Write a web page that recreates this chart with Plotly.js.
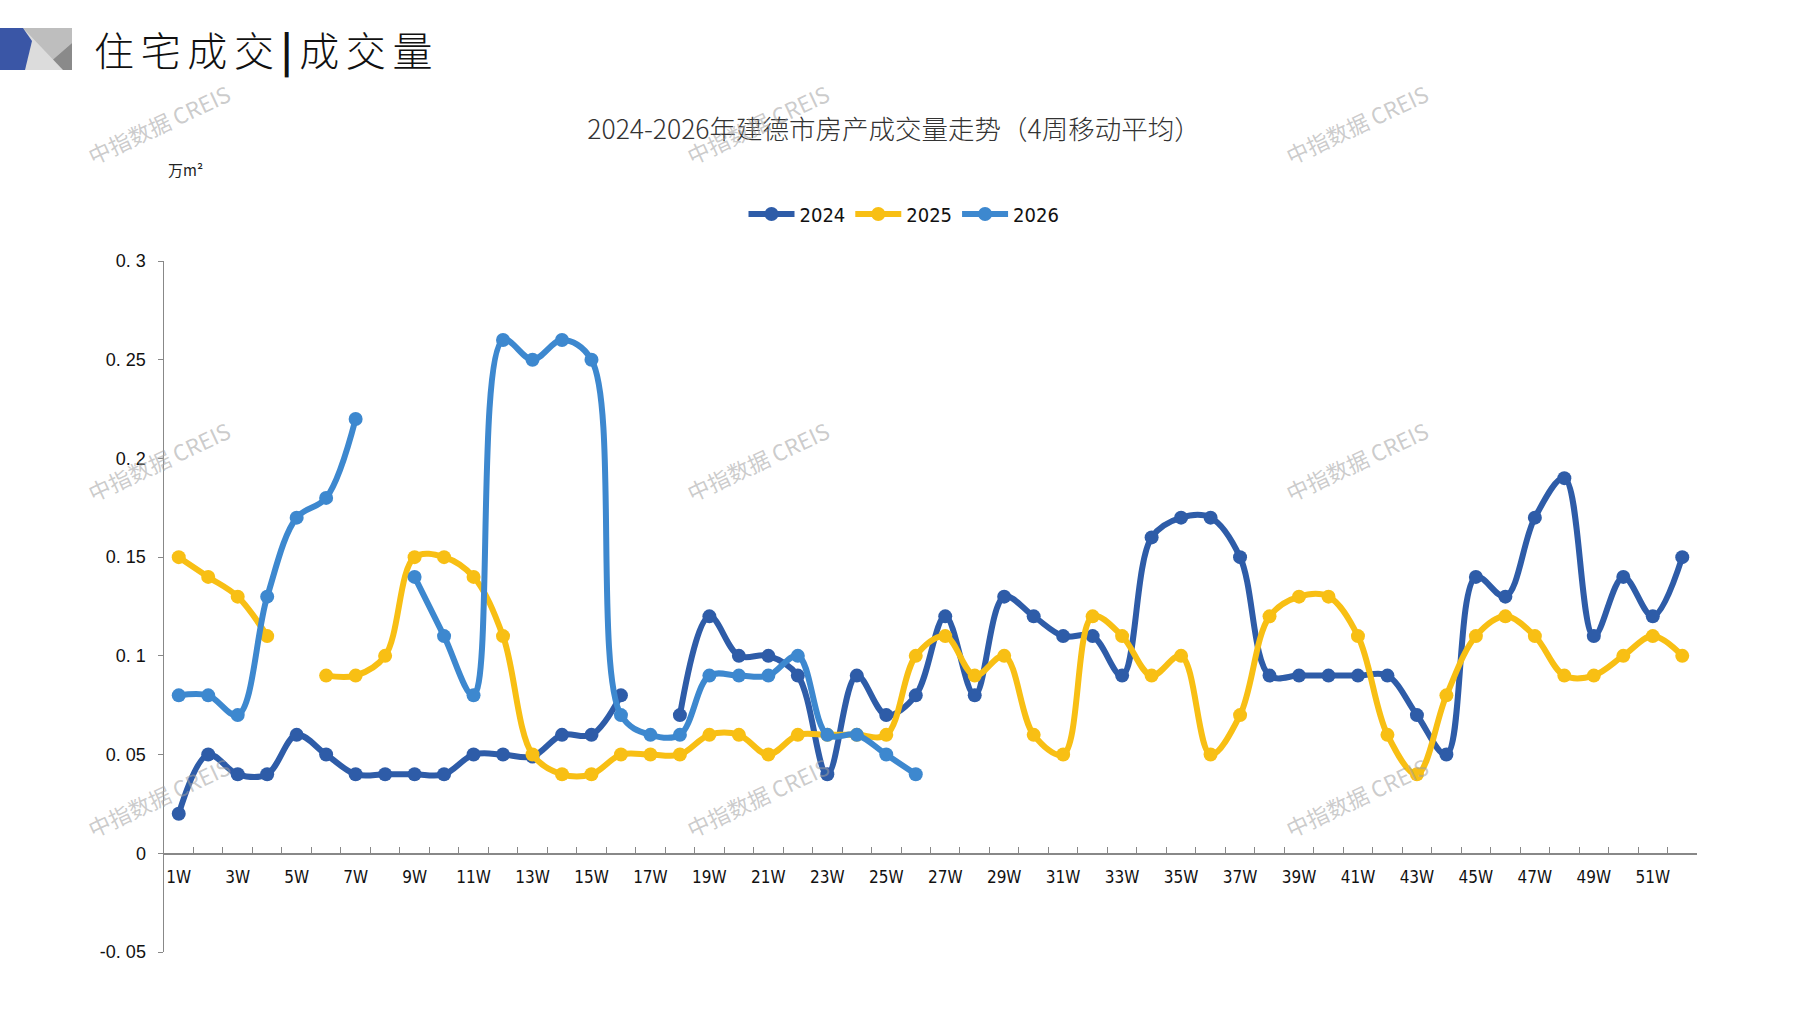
<!DOCTYPE html>
<html>
<head>
<meta charset="utf-8">
<script src="https://cdn.plot.ly/plotly-3.0.1.min.js"></script>
<style>
  html, body { margin: 0; padding: 0; background: #fff; }
  #graph { width: 1797px; height: 1010px; }
</style>
</head>
<body>
<div id="graph"></div>
<script>
// weeks on the x axis
var weeks = ['1W','2W','3W','4W','5W','6W','7W','8W','9W','10W',
  '11W','12W','13W','14W','15W','16W','17W','18W','19W','20W',
  '21W','22W','23W','24W','25W','26W','27W','28W','29W','30W',
  '31W','32W','33W','34W','35W','36W','37W','38W','39W','40W',
  '41W','42W','43W','44W','45W','46W','47W','48W','49W','50W',
  '51W','52W'];

// only odd weeks get a label
var weekLabels = ['1W','','3W','','5W','','7W','','9W','',
  '11W','','13W','','15W','','17W','','19W','',
  '21W','','23W','','25W','','27W','','29W','',
  '31W','','33W','','35W','','37W','','39W','',
  '41W','','43W','','45W','','47W','','49W','',
  '51W',''];

// 4 week moving average, 万m2
var y2024 = [0.02,0.05,0.04,0.04,0.06,0.05,0.04,0.04,0.04,0.04,
  0.05,0.05,0.049,0.06,0.06,0.08,null,0.07,0.12,0.10,
  0.10,0.09,0.04,0.09,0.07,0.08,0.12,0.08,0.13,0.12,
  0.11,0.11,0.09,0.16,0.17,0.17,0.15,0.09,0.09,0.09,
  0.09,0.09,0.07,0.05,0.14,0.13,0.17,0.19,0.11,0.14,
  0.12,0.15];

var y2025 = [0.15,0.14,0.13,0.11,null,0.09,0.09,0.10,0.15,0.15,
  0.14,0.11,0.05,0.04,0.04,0.05,0.05,0.05,0.06,0.06,
  0.05,0.06,0.06,0.06,0.06,0.10,0.11,0.09,0.10,0.06,
  0.05,0.12,0.11,0.09,0.10,0.05,0.07,0.12,0.13,0.13,
  0.11,0.06,0.04,0.08,0.11,0.12,0.11,0.09,0.09,0.10,
  0.11,0.10];

var y2026 = [0.08,0.08,0.07,0.13,0.17,0.18,0.22,null,0.14,0.11,
  0.08,0.26,0.25,0.26,0.25,0.07,0.06,0.06,0.09,0.09,
  0.09,0.10,0.06,0.06,0.05,0.04];

var yTicks = [-0.05,0,0.05,0.1,0.15,0.2,0.25,0.3];
var yTickText = ['-0. 05','0','0. 05','0. 1','0. 15','0. 2','0. 25','0. 3'];

var seriesNames = ['2024','2025','2026'];
var seriesColors = ['#2E5CA8','#F8BF14','#3D88CF'];
var seriesValues = [y2024, y2025, y2026];

// plot area in pixels, used to place the extra decorations
var W = 1797, H = 1010;
var L = 164, R = 1697, T = 261, B = 952;
function px(x) { return (x - L) / (R - L); }
function py(y) { return (B - y) / (B - T); }
function pt(x, y) { return px(x) + ',' + py(y); }

var data = [];
for (var i = 0; i < seriesNames.length; i++) {
  data.push({
    x: weeks.slice(0, seriesValues[i].length),
    y: seriesValues[i],
    name: seriesNames[i],
    type: 'scatter',
    mode: 'lines+markers',
    connectgaps: false,
    line: { color: seriesColors[i], width: 6, shape: 'spline' },
    marker: { color: seriesColors[i], size: 14 }
  });
}

var narrow = 'Liberation Sans Narrow, DejaVu Sans Condensed, Liberation Sans, sans-serif';
var cjk = 'Noto Sans CJK SC, sans-serif';

// watermark grid
var annotations = [];
var markX = [158, 757, 1356];
var markY = [124, 461, 797];
markX.forEach(function (mx) {
  markY.forEach(function (my) {
    annotations.push({
      text: '中指数据 CREIS', xref: 'paper', yref: 'paper',
      x: px(mx), y: py(my), xanchor: 'center', yanchor: 'middle',
      showarrow: false, textangle: -25,
      font: { family: 'Noto Sans CJK SC, Liberation Sans, sans-serif', size: 22, color: 'rgba(160,160,160,0.55)' }
    });
  });
});

// heading and unit
annotations.push({
  text: '住\u2006宅\u2006成\u2006交\u2006<b>|</b>\u2006成\u2006交\u2006量', xref: 'paper', yref: 'paper',
  x: px(92), y: py(49), xanchor: 'left', yanchor: 'middle', showarrow: false,
  font: { family: cjk, size: 40, weight: 300, color: '#111' }
});
annotations.push({
  text: '万m²', xref: 'paper', yref: 'paper',
  x: px(185), y: py(170), xanchor: 'center', yanchor: 'middle', showarrow: false,
  font: { family: cjk, size: 15, color: '#222' }
});

// little logo block on the top left
function path(points) {
  return 'M' + points.map(function (p) { return pt(p[0], p[1]); }).join(' L') + ' Z';
}
var shapes = [
  { type: 'path', xref: 'paper', yref: 'paper', line: { width: 0 }, fillcolor: '#DCDCDC',
    path: path([[0,28],[72,28],[72,70],[0,70]]) },
  { type: 'path', xref: 'paper', yref: 'paper', line: { width: 0 }, fillcolor: '#BEBEBE',
    path: path([[23,28],[72,28],[72,43],[53,59.5]]) },
  { type: 'path', xref: 'paper', yref: 'paper', line: { width: 0 }, fillcolor: '#8A8A8A',
    path: path([[53,59.5],[72,43],[72,70],[63,70]]) },
  { type: 'path', xref: 'paper', yref: 'paper', line: { width: 0 }, fillcolor: '#3A56A6',
    path: path([[0,28],[23,28],[32,41],[25,70],[0,70]]) }
];

var layout = {
  width: W,
  height: H,
  margin: { l: L, r: W - R, t: T, b: H - B, pad: 0 },
  paper_bgcolor: '#fff',
  plot_bgcolor: '#fff',
  showlegend: true,
  hovermode: false,
  title: {
    text: '2024-2026年建德市房产成交量走势（4周移动平均）',
    xref: 'container', yref: 'container',
    x: 894 / W, y: 1 - 130 / H, xanchor: 'center', yanchor: 'middle',
    font: { family: cjk, size: 26.5, weight: 300, color: '#333' }
  },
  legend: {
    orientation: 'h',
    xref: 'container', yref: 'container',
    x: 904 / W, y: 1 - 214 / H, xanchor: 'center', yanchor: 'middle',
    font: { family: narrow, size: 20, color: '#111' },
    itemwidth: 46,
    tracegroupgap: 0
  },
  xaxis: {
    type: 'category',
    range: [-0.5, 51.5],
    autorange: false,
    anchor: 'free',
    position: 0.05 / 0.35,
    tickvals: weeks,
    ticktext: weekLabels,
    tickson: 'boundaries',
    ticks: 'inside',
    ticklen: 6,
    tickcolor: '#888',
    showline: true,
    linecolor: '#888',
    linewidth: 1.5,
    showgrid: false,
    zeroline: false,
    tickangle: 0,
    ticklabelstandoff: 8,
    tickfont: { family: narrow, size: 17, color: '#111' }
  },
  yaxis: {
    range: [-0.05, 0.3],
    autorange: false,
    domain: [0, 1],
    tickvals: yTicks,
    ticktext: yTickText,
    ticks: 'outside',
    ticklen: 5,
    tickcolor: '#888',
    showline: true,
    linecolor: '#888',
    linewidth: 1.5,
    showgrid: false,
    zeroline: false,
    ticklabelstandoff: 8,
    tickfont: { family: 'Liberation Sans, sans-serif', size: 18, color: '#111' }
  },
  annotations: annotations,
  shapes: shapes
};

var config = { staticPlot: true, displayModeBar: false };
Plotly.newPlot('graph', data, layout, config);
</script>
</body>
</html>
